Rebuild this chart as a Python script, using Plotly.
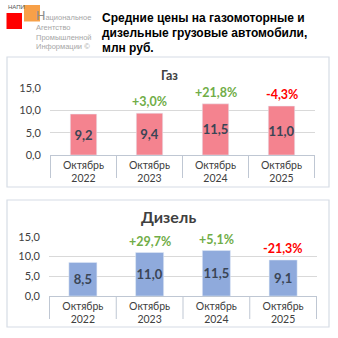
import plotly.graph_objects as go

# ---- data ----
categories = ["Октябрь<br>2022", "Октябрь<br>2023", "Октябрь<br>2024", "Октябрь<br>2025"]
gas_values = [9.2, 9.4, 11.5, 11.0]
gas_changes = ["", "+3,0%", "+21,8%", "-4,3%"]
diesel_values = [8.5, 11.0, 11.5, 9.1]
diesel_changes = ["", "+29,7%", "+5,1%", "-21,3%"]
y_ticks = [0, 5, 10, 15]
title_lines = ["Средние цены на газомоторные и", "дизельные грузовые автомобили,", "млн руб."]
logo_lines = ["ациональное", "Агентство", "Промышленной", "Информации ©"]

W = H = 338
def px(x):
    return x / W
def py(y):
    return 1 - y / H

FONT = "Lato, 'Open Sans', Arial, sans-serif"
NARROW = "Liberation Sans Narrow, Arial Narrow, sans-serif"
TXT = "#404040"
GREEN = "#70AD47"
RED = "#FF0000"
PINK = "#F4838F"
BLUE = "#8FAADC"

def fmt(v):
    return f"{v:.1f}".replace(".", ",")

fig = go.Figure()
for vals, color, wd, xa, ya in [(gas_values, PINK, 0.4, "x", "y"),
                                (diesel_values, BLUE, 0.42, "x2", "y2")]:
    fig.add_trace(go.Bar(x=categories, y=vals, marker_color=color, width=wd,
                         text=[fmt(v) for v in vals], textposition="inside",
                         insidetextanchor="middle", textangle=0, constraintext="none",
                         cliponaxis=False,
                         textfont=dict(family=FONT, size=13, color="#3A4555", weight="bold"),
                         xaxis=xa, yaxis=ya, hoverinfo="skip"))

panels = [
    dict(xa="x", ya="y", x0=50, x1=315, ytop=88.3, ybot=155, vals=gas_values, ch=gas_changes),
    dict(xa="x2", ya="y2", x0=49, x1=317, ytop=236.7, ybot=296, vals=diesel_values, ch=diesel_changes),
]

layout = dict(
    width=W, height=H, margin=dict(l=0, r=0, t=0, b=0, autoexpand=False),
    paper_bgcolor="white", plot_bgcolor="white",
    showlegend=False, separators=", ",
    font=dict(family=FONT, color=TXT),
)
shapes = []
annotations = []

def note(x, y, text, size, color, family=FONT, xanchor="left", yanchor="middle"):
    annotations.append(dict(xref="paper", yref="paper", x=px(x), y=py(y), text=text,
                            showarrow=False, xanchor=xanchor, yanchor=yanchor,
                            align="left", font=dict(family=family, size=size, color=color)))

for i, p in enumerate(panels):
    sfx = "" if i == 0 else "2"
    layout["xaxis" + sfx] = dict(
        domain=[px(p["x0"]), px(p["x1"])], anchor="y" + sfx, automargin=False,
        showline=True, linecolor="#BFC7D3", linewidth=1,
        showgrid=False, ticks="", tickfont=dict(size=10.5, color=TXT, family=FONT),
        fixedrange=True,
    )
    layout["yaxis" + sfx] = dict(
        domain=[py(p["ybot"]), py(p["ytop"])], anchor="x" + sfx, automargin=False,
        range=[0, 15], tickvals=y_ticks, tickformat=".1f",
        showgrid=True, gridcolor="#D9D9D9", gridwidth=1, zeroline=False,
        showline=False, ticklabelstandoff=8,
        tickfont=dict(size=11, color=TXT, family=FONT), fixedrange=True,
    )
    for k in range(len(categories) + 1):
        shapes.append(dict(type="line", xref=p["xa"], yref="paper",
                           x0=k - 0.5, x1=k - 0.5,
                           y0=py(p["ybot"]), y1=py(p["ybot"] + 23),
                           line=dict(color="#BFC7D3", width=1)))
    for k, (v, c) in enumerate(zip(p["vals"], p["ch"])):
        if not c:
            continue
        annotations.append(dict(xref=p["xa"], yref=p["ya"], x=categories[k], y=v,
                                text=f"<b>{c}</b>", showarrow=False,
                                xanchor="center", yanchor="bottom", yshift=2,
                                font=dict(family=FONT, size=12.5,
                                          color=RED if c.startswith("-") else GREEN)))

for (x0, y0, x1, y1) in [(7, 57, 329, 187), (7, 200, 329, 327)]:
    shapes.append(dict(type="rect", xref="paper", yref="paper",
                       x0=px(x0), x1=px(x1), y0=py(y1), y1=py(y0),
                       line=dict(color="#D6DCE5", width=1.2), layer="below"))

# logo
shapes.append(dict(type="rect", xref="paper", yref="paper", x0=px(24), x1=px(40),
                   y0=py(21.5), y1=py(5), fillcolor="#F7A048", line=dict(width=0), layer="below"))
shapes.append(dict(type="rect", xref="paper", yref="paper", x0=px(6.5), x1=px(22),
                   y0=py(29), y1=py(13), fillcolor="#FF0000", line=dict(width=0), layer="below"))
note(6, 7.5, "НАПИ", 6, "#555555", NARROW)
logo_text = ("<span style='font-size:13px;fill:#8C8C8C'>Н</span>" + logo_lines[0] + "<br>"
             + "<br>".join(logo_lines[1:]))
note(34, 29.5, logo_text, 7.5, "#A6A6A6", NARROW)

# title
for j, line in enumerate(title_lines):
    note(100, 17.7 + 15.2 * j, f"<b>{line}</b>", 12, "#000000", "Liberation Sans, Arial, sans-serif")

note(169, 75, "<b>Газ</b>", 12.5, TXT, xanchor="center")
note(168, 216, "<b>Дизель</b>", 16, TXT, xanchor="center")

layout["shapes"] = shapes
layout["annotations"] = annotations
fig.update_layout(**layout)
fig.write_html("out.html")
